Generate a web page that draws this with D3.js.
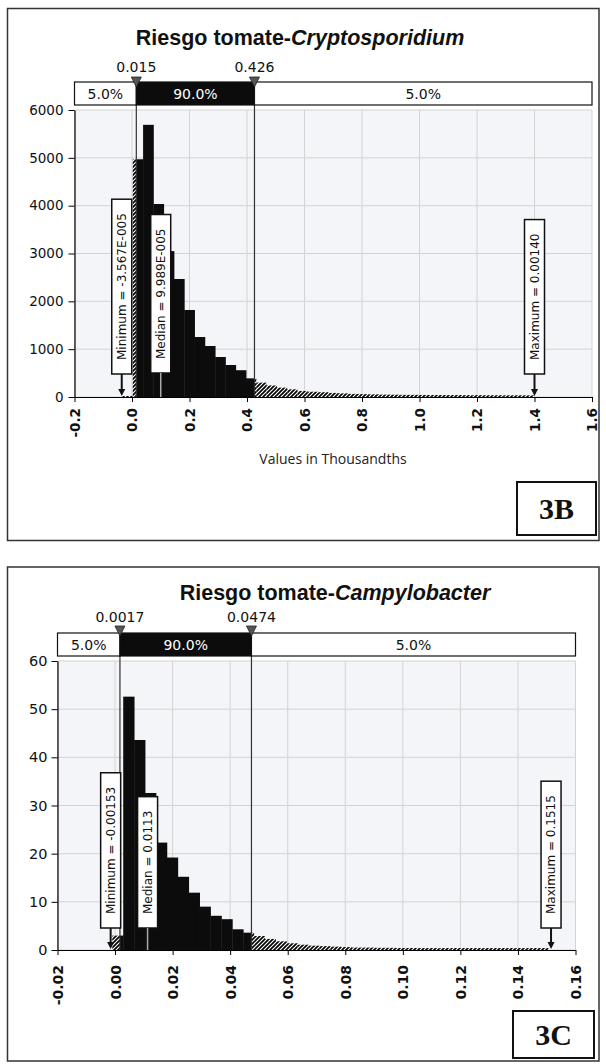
<!DOCTYPE html>
<html><head><meta charset="utf-8">
<script src="https://cdn.jsdelivr.net/npm/d3@7"></script>
<style>body{margin:0;background:#fff}svg{display:block}</style>
</head><body><svg id="c" width="606" height="1064"></svg>
<script>
// ---------- Chart 3B data (values in thousandths) ----------
const titleB = ["Riesgo tomate-", "Cryptosporidium"];
const countsB = [20,4970,5690,4035,3050,2467,1819,1254,1066,836,669,560,390,300,240,195,160,125,110,100,85,75,65,60,55,50,48,45,45,42,42,40,40,38,38,36,36,35,35,34];
const binStartB = -0.033;
const binWidthB = 0.0358;
const xTicksB = [-0.2,0,0.2,0.4,0.6,0.8,1.0,1.2,1.4,1.6];
const xTickLabelsB = ["-0.2","0.0","0.2","0.4","0.6","0.8","1.0","1.2","1.4","1.6"];
const yTicksB = [0,1000,2000,3000,4000,5000,6000];
const percentilesB = [0.015, 0.426];
const percentileLabelsB = ["0.015", "0.426"];
const bandLabelsB = ["5.0%", "90.0%", "5.0%"];
const statLabelsB = ["Minimum = -3.567E-005", "Median = 9.989E-005", "Maximum = 0.00140"];
const statValuesB = [-0.03567, 0.09989, 1.40];
const axisTitleB = "Values in Thousandths";
const panelB = "3B";

// ---------- Chart 3C data ----------
const titleC = ["Riesgo tomate-", "Campylobacter"];
const countsC = [3,52.6,43.6,32.6,22.3,19.2,15.2,11.9,9.0,7.1,6.4,4.3,3.6,2.9,2.3,1.8,1.4,1.1,0.9,0.8,0.7,0.6,0.5,0.5,0.45,0.45,0.42,0.42,0.4,0.4,0.4,0.4,0.4,0.4,0.4,0.4,0.4,0.4,0.4,0.4];
const binStartC = -0.00095;
const binWidthC = 0.00379;
const xTicksC = [-0.02,0,0.02,0.04,0.06,0.08,0.10,0.12,0.14,0.16];
const xTickLabelsC = ["-0.02","0.00","0.02","0.04","0.06","0.08","0.10","0.12","0.14","0.16"];
const yTicksC = [0,10,20,30,40,50,60];
const percentilesC = [0.0017, 0.0474];
const percentileLabelsC = ["0.0017", "0.0474"];
const bandLabelsC = ["5.0%", "90.0%", "5.0%"];
const statLabelsC = ["Minimum = -0.00153", "Median = 0.0113", "Maximum = 0.1515"];
const statValuesC = [-0.00153, 0.0113, 0.1515];
const panelC = "3C";

// ---------- drawing ----------
const svg = d3.select("#c");
svg.append("rect").attr("width", 606).attr("height", 1064).attr("fill", "#fff");
const defs = svg.append("defs");
const pat = defs.append("pattern").attr("id", "hatch").attr("patternUnits", "userSpaceOnUse")
  .attr("width", 4).attr("height", 4);
pat.append("rect").attr("width", 4).attr("height", 4).attr("fill", "#fff");
pat.append("path").attr("d", "M-1,1 l2,-2 M0,4 l4,-4 M3,5 l2,-2")
  .attr("stroke", "#000").attr("stroke-width", 1.7);

function drawChart(o) {
  const g = svg.append("g");
  g.append("rect").attr("x", o.frame[0]).attr("y", o.frame[1]).attr("width", o.frame[2]).attr("height", o.frame[3])
    .attr("fill", "none").attr("stroke", "#333").attr("stroke-width", 1.5);

  const x = d3.scaleLinear().domain(o.xDomain).range(o.xRange);
  const y = d3.scaleLinear().domain(o.yDomain).range(o.yRange);
  const y0 = y(o.yDomain[0]), yTop = y(o.yDomain[1]);

  // plot background
  g.append("rect").attr("x", x(o.xDomain[0])).attr("y", yTop)
    .attr("width", x(o.xDomain[1]) - x(o.xDomain[0])).attr("height", y0 - yTop).attr("fill", "#f3f5f8");
  // grid
  g.append("g").selectAll("line").data(o.xTicks).join("line")
    .attr("x1", d => x(d)).attr("x2", d => x(d)).attr("y1", y0).attr("y2", yTop)
    .attr("stroke", "#d3d3d3").attr("stroke-width", 1);
  g.append("g").selectAll("line").data(o.yTicks).join("line")
    .attr("x1", x(o.xDomain[0])).attr("x2", x(o.xDomain[1])).attr("y1", d => y(d)).attr("y2", d => y(d))
    .attr("stroke", "#d3d3d3").attr("stroke-width", 1);

  // bars split into tail (hatched) and central (solid) parts
  const [p5, p95] = o.percentiles;
  const segs = [];
  o.counts.forEach((c, i) => {
    const a0 = o.binStart + i * o.binWidth, a1 = a0 + o.binWidth;
    if (a0 < p5) segs.push({ a: a0, b: Math.min(a1, p5), c, h: true });
    const a = Math.max(a0, p5), b = Math.min(a1, p95);
    if (b > a) segs.push({ a, b, c, h: false });
    if (a1 > p95) segs.push({ a: Math.max(a0, p95), b: a1, c, h: true });
  });
  g.append("g").selectAll("rect").data(segs).join("rect")
    .attr("x", d => x(d.a)).attr("width", d => x(d.b) - x(d.a) + (d.h ? 0 : 0.4))
    .attr("y", d => y(d.c)).attr("height", d => y0 - y(d.c))
    .attr("fill", d => d.h ? "url(#hatch)" : "#0c0c0c");

  // percentile lines
  g.append("g").selectAll("line").data(o.percentiles).join("line")
    .attr("x1", d => x(d)).attr("x2", d => x(d)).attr("y1", o.band[1]).attr("y2", y0)
    .attr("stroke", "#333").attr("stroke-width", 1.2);

  // x axis
  const xAxis = d3.axisBottom(x).tickValues(o.xTicks).tickFormat((d, i) => o.xTickLabels[i])
    .tickSize(5).tickSizeOuter(0);
  const ax = g.append("g").attr("transform", `translate(0,${y0})`).call(xAxis);
  ax.select(".domain").attr("stroke", "#000").attr("stroke-width", 1.2);
  ax.selectAll(".tick line").attr("stroke", "#000");
  ax.selectAll(".tick text").attr("transform", "rotate(-90)").attr("text-anchor", "end")
    .attr("x", -o.xLabelGap).attr("y", 0).attr("dy", "0.36em")
    .attr("fill", "#111").style("font-family", "'DejaVu Sans', sans-serif")
    .style("font-size", o.xFont + "px").style("font-weight", "bold");

  // y axis
  const yAxis = d3.axisLeft(y).tickValues(o.yTicks).tickFormat(d3.format("d")).tickSize(6).tickPadding(o.yPad).tickSizeOuter(0);
  const ay = g.append("g").attr("transform", `translate(${x(o.xDomain[0])},0)`).call(yAxis);
  ay.select(".domain").attr("stroke", "#000").attr("stroke-width", 1.2);
  ay.selectAll(".tick line").attr("stroke", "#000");
  ay.selectAll(".tick text").attr("fill", "#111").style("font-family", "'DejaVu Sans', sans-serif")
    .style("font-size", o.yFont + "px");

  // band
  const bx = [x(o.xDomain[0]), x(p5), x(p95), x(o.xDomain[1])];
  const bandSegs = [0, 1, 2].map(i => ({ x0: bx[i], x1: bx[i + 1], label: o.bandLabels[i], dark: i === 1 }));
  const bg = g.append("g");
  bg.selectAll("rect").data(bandSegs).join("rect")
    .attr("x", d => d.x0).attr("y", o.band[0]).attr("width", d => d.x1 - d.x0).attr("height", o.band[1] - o.band[0])
    .attr("fill", d => d.dark ? "#0c0c0c" : "#fff").attr("stroke", "#111").attr("stroke-width", 1.2);
  bg.selectAll("text").data(bandSegs).join("text")
    .attr("x", d => (d.x0 + d.x1) / 2).attr("y", (o.band[0] + o.band[1]) / 2).attr("dy", "0.36em")
    .attr("text-anchor", "middle").attr("fill", d => d.dark ? "#fff" : "#111")
    .style("font-family", "'DejaVu Sans', sans-serif").style("font-size", "14px")
    .text(d => d.label);

  // percentile markers
  const mg = g.append("g");
  mg.selectAll("path").data(o.percentiles).join("path")
    .attr("d", d => `M${x(d) - 5},${o.triTop} L${x(d) + 5},${o.triTop} L${x(d)},${o.triTop + 10} Z`)
    .attr("fill", "#555").attr("stroke", "#222").attr("stroke-width", 0.8);
  mg.selectAll("text").data(o.percentiles).join("text")
    .attr("x", d => x(d)).attr("y", o.pctLabelY).attr("text-anchor", "middle")
    .attr("fill", "#111").style("font-family", "'DejaVu Sans', sans-serif").style("font-size", "14px")
    .text((d, i) => o.percentileLabels[i]);

  // stat boxes (min, median, max)
  const sg = g.append("g");
  o.statValues.forEach((v, i) => {
    const cx = x(v), bottom = o.statBottoms[i];
    const t = sg.append("text").attr("text-anchor", "middle").attr("dy", "0.36em")
      .attr("fill", "#111").style("font-family", "'DejaVu Sans', sans-serif").style("font-size", "12px")
      .text(o.statLabels[i]);
    const len = t.node().getComputedTextLength() + 28;
    const top = bottom - len;
    sg.insert("rect", "text").attr("x", cx - 10).attr("y", top).attr("width", 20).attr("height", len)
      .attr("fill", "#fff").attr("stroke", "#111").attr("stroke-width", 1.5);
    t.attr("transform", `translate(${cx},${(top + bottom) / 2}) rotate(-90)`);
    if (i === 1) {
      sg.append("line").attr("x1", cx).attr("x2", cx).attr("y1", bottom).attr("y2", y0)
        .attr("stroke", "#aaa").attr("stroke-width", 1.5);
    } else {
      sg.append("line").attr("x1", cx).attr("x2", cx).attr("y1", bottom).attr("y2", y0 - 5)
        .attr("stroke", "#111").attr("stroke-width", 2);
      sg.append("path").attr("d", `M${cx - 3.5},${y0 - 8} L${cx + 3.5},${y0 - 8} L${cx},${y0 - 1} Z`)
        .attr("fill", "#111");
    }
  });

  // title
  const tt = g.append("text").attr("x", o.titleX).attr("y", o.titleY).attr("text-anchor", "middle")
    .attr("fill", "#111").style("font-family", "'Liberation Sans', Arial, sans-serif")
    .style("font-size", "21.5px").style("font-weight", "bold");
  tt.append("tspan").text(o.title[0]);
  tt.append("tspan").style("font-style", "italic").text(o.title[1]);

  // axis title
  if (o.axisTitle) {
    g.append("text").attr("x", o.axisTitleX).attr("y", o.axisTitleY).attr("text-anchor", "middle")
      .attr("fill", "#222").style("font-family", "'Open Sans', sans-serif").style("font-size", "14px")
      .text(o.axisTitle);
  }

  // panel label
  const pb = o.panelBox;
  g.append("rect").attr("x", pb[0]).attr("y", pb[1]).attr("width", pb[2]).attr("height", pb[3])
    .attr("fill", "#fff").attr("stroke", "#111").attr("stroke-width", 2);
  g.append("text").attr("x", pb[0] + pb[2] / 2).attr("y", pb[1] + pb[3] / 2).attr("dy", "0.35em")
    .attr("text-anchor", "middle").attr("fill", "#111")
    .style("font-family", "'Liberation Serif', 'Times New Roman', serif").style("font-size", "30px")
    .style("font-weight", "bold").text(o.panel);
}

drawChart({
  title: titleB, counts: countsB, binStart: binStartB, binWidth: binWidthB,
  xTicks: xTicksB, xTickLabels: xTickLabelsB, yTicks: yTicksB,
  percentiles: percentilesB, percentileLabels: percentileLabelsB, bandLabels: bandLabelsB,
  statLabels: statLabelsB, statValues: statValuesB, axisTitle: axisTitleB, panel: panelB,
  frame: [7.5, 8.5, 591.5, 532],
  xDomain: [-0.2, 1.6], xRange: [74.5, 592], yDomain: [0, 6000], yRange: [397, 110],
  band: [82, 105], triTop: 77, pctLabelY: 72,
  titleX: 300, titleY: 45, xLabelGap: 11, xFont: 13.5, yFont: 13.5, yPad: 5,
  statBottoms: [374, 373, 374],
  axisTitleX: 333, axisTitleY: 464,
  panelBox: [517, 482, 79, 53]
});

drawChart({
  title: titleC, counts: countsC, binStart: binStartC, binWidth: binWidthC,
  xTicks: xTicksC, xTickLabels: xTickLabelsC, yTicks: yTicksC,
  percentiles: percentilesC, percentileLabels: percentileLabelsC, bandLabels: bandLabelsC,
  statLabels: statLabelsC, statValues: statValuesC, axisTitle: null, panel: panelC,
  frame: [7.5, 567, 591.5, 494],
  xDomain: [-0.02, 0.16], xRange: [57.5, 575.5], yDomain: [0, 60], yRange: [950, 661],
  band: [633, 656], triTop: 626, pctLabelY: 622,
  titleX: 335, titleY: 600, xLabelGap: 15, xFont: 14, yFont: 14.5, yPad: 4,
  statBottoms: [928, 928, 928],
  panelBox: [513, 1011, 81, 47]
});
</script>
</body></html>
